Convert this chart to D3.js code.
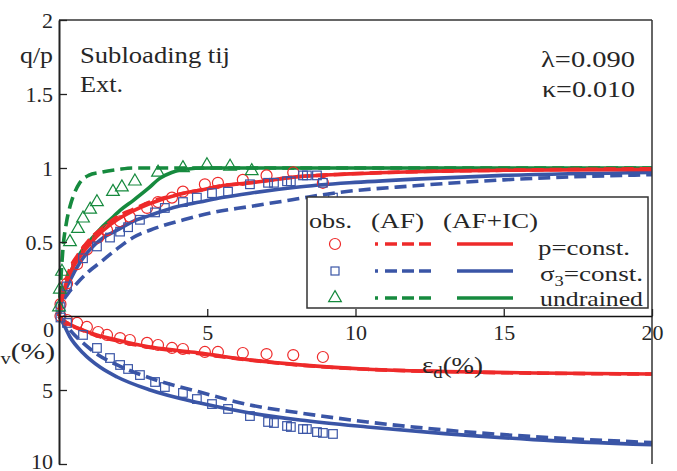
<!DOCTYPE html>
<html>
<head>
<meta charset="utf-8">
<script src="https://cdn.jsdelivr.net/npm/d3@7"></script>
<style>
  html, body { margin: 0; padding: 0; background: #fff; }
  svg { display: block; }
  text { font-family: "Liberation Serif", "Times New Roman", Times, serif; fill: #262626; }
</style>
</head>
<body>
<svg id="chart" width="677" height="471"></svg>
<script>
// ---------------- data ----------------
const xTicks = [5, 10, 15, 20];
const qTicks = [0.5, 1, 1.5, 2];
const vTicks = [0, 5, 10];

// q/p vs eps_d : model curves
const qRedAF = [[0,0],[0.05,0.08],[0.15,0.18],[0.37,0.32],[0.7,0.43],[1.05,0.52],[1.5,0.6],[1.96,0.67],[2.5,0.72],[3.07,0.77],[4,0.82],[4.75,0.85],[5.5,0.88],[6.44,0.9],[8,0.94],[9.8,0.96],[12,0.975],[15,0.985],[20,0.995]];
const qRedIC = [[0,0],[0.05,0.07],[0.15,0.16],[0.37,0.29],[0.7,0.4],[1.05,0.49],[1.5,0.58],[1.96,0.65],[2.5,0.71],[3.07,0.76],[4,0.82],[4.75,0.85],[5.5,0.88],[6.44,0.9],[8,0.94],[9.8,0.96],[12,0.975],[15,0.985],[20,0.99]];
const qBlueAF = [[0,0],[0.1,0.08],[0.3,0.15],[0.6,0.22],[1.0,0.3],[1.38,0.36],[2,0.46],[2.5,0.53],[3.2,0.59],[4.2,0.65],[5.2,0.7],[6.44,0.74],[8,0.79],[9.25,0.83],[12,0.88],[15,0.92],[20,0.955]];
const qBlueIC = [[0,0],[0.05,0.06],[0.15,0.14],[0.37,0.24],[0.7,0.36],[1.05,0.45],[1.5,0.53],[1.96,0.58],[2.5,0.64],[3.07,0.68],[4,0.74],[4.75,0.77],[5.5,0.8],[6.44,0.83],[8,0.87],[9.8,0.9],[12,0.925],[15,0.95],[20,0.97]];
const qGreenAF = [[0,0],[0.05,0.2],[0.14,0.47],[0.25,0.63],[0.37,0.74],[0.5,0.82],[0.7,0.9],[1.0,0.95],[1.38,0.97],[2,0.99],[2.5,1.0],[5,1.0],[10,1.0],[20,1.0]];
const qGreenIC = [[0,0],[0.05,0.06],[0.13,0.13],[0.3,0.25],[0.54,0.36],[0.8,0.45],[1.05,0.51],[1.4,0.59],[1.72,0.65],[2.1,0.72],[2.5,0.78],[3.0,0.86],[3.4,0.93],[3.8,0.97],[4.2,0.99],[5,1.0],[10,1.0],[20,1.0]];

// eps_v vs eps_d : model curves
const vRedAF = [[0,0],[0.05,0.12],[0.13,0.27],[0.4,0.62],[0.81,0.98],[1.3,1.35],[1.96,1.68],[2.5,1.92],[3.07,2.13],[4,2.38],[4.75,2.55],[5.5,2.75],[6.44,2.98],[8.13,3.32],[10.4,3.6],[13,3.76],[16,3.86],[20,3.92]];
const vRedIC = [[0,0],[0.05,0.12],[0.13,0.27],[0.4,0.6],[0.81,0.95],[1.3,1.3],[1.96,1.62],[2.5,1.88],[3.07,2.1],[4,2.33],[4.75,2.5],[5.5,2.72],[6.44,2.97],[8.13,3.3],[10.4,3.6],[13,3.75],[16,3.85],[20,3.92]];
const vBlueAF = [[0,0],[0.05,0.12],[0.13,0.3],[0.37,0.95],[0.81,1.82],[1.3,2.6],[1.96,3.31],[3.07,4.19],[4.75,5.14],[6.44,6.01],[8.13,6.55],[10.4,7.16],[13,7.7],[16,8.15],[20,8.55]];
const vBlueIC = [[0,0],[0.05,0.2],[0.13,0.47],[0.37,1.42],[0.81,2.5],[1.38,3.45],[1.96,4.12],[3.07,5.0],[4.75,5.88],[6.44,6.55],[8.13,7.03],[10.4,7.5],[13,7.95],[16,8.35],[20,8.7]];

// observations
const obsRedEd = [0.05,0.27,0.61,0.94,1.32,1.62,2.06,2.39,2.97,3.34,3.81,4.18,4.92,5.36,6.2,7.0,7.9,8.9];
const obsRedQ  = [0.08,0.22,0.35,0.45,0.53,0.58,0.64,0.67,0.73,0.77,0.8,0.84,0.89,0.9,0.92,0.95,0.97,0.9];
const obsRedV  = [0.0,0.27,0.47,0.74,1.08,1.28,1.49,1.62,1.82,1.96,2.16,2.23,2.43,2.43,2.5,2.57,2.64,2.77];

const obsBlueEd = [0.05,0.27,0.81,1.28,1.72,2.06,2.33,2.73,3.24,3.57,4.18,4.65,5.16,5.7,6.44,7.05,7.25,7.69,7.82,8.23,8.36,8.7,8.9,9.24];
const obsBlueQ  = [0.06,0.2,0.39,0.47,0.53,0.57,0.6,0.65,0.7,0.73,0.77,0.8,0.83,0.84,0.89,0.9,0.9,0.91,0.91,0.95,0.95,0.95,0.9,0.8];
const obsBlueV  = [0.1,0.47,1.28,2.16,2.84,3.31,3.58,3.99,4.46,4.8,5.2,5.61,5.95,6.28,6.76,7.16,7.23,7.43,7.5,7.64,7.64,7.84,7.9,7.97];

const obsGreenEd = [0.0,0.03,0.1,0.37,0.64,0.81,1.05,1.28,1.82,2.12,2.56,3.34,4.18,4.99,5.77,6.5];
const obsGreenQ  = [0.06,0.18,0.3,0.5,0.59,0.66,0.72,0.77,0.84,0.87,0.91,0.97,1.0,1.02,1.01,0.98];

// ---------------- drawing ----------------
const RED = "#ee2a2a", BLUE = "#3a55a6", GREEN = "#168a3e";
const svg = d3.select("#chart");
const x = d3.scaleLinear([0, 20], [59, 652]);
const yq = d3.scaleLinear([0, 2], [316, 20]);
const yv = d3.scaleLinear([0, 10], [316, 464]);

const lineQ = d3.line().x(d => x(d[0])).y(d => yq(d[1])).curve(d3.curveMonotoneX);
const lineV = d3.line().x(d => x(d[0])).y(d => yv(d[1])).curve(d3.curveMonotoneX);

const DASH = "12,6";
const curves = [
  [qGreenAF, lineQ, GREEN, DASH], [qGreenIC, lineQ, GREEN, null],
  [qBlueAF, lineQ, BLUE, DASH], [qBlueIC, lineQ, BLUE, null],
  [qRedAF, lineQ, RED, DASH], [qRedIC, lineQ, RED, null],
  [vBlueAF, lineV, BLUE, DASH], [vBlueIC, lineV, BLUE, null],
  [vRedAF, lineV, RED, DASH], [vRedIC, lineV, RED, null]
];
const gC = svg.append("g");
curves.forEach(([data, gen, col, dash]) => {
  gC.append("path").attr("d", gen(data)).attr("fill", "none")
    .attr("stroke", col).attr("stroke-width", 3.6)
    .attr("stroke-dasharray", dash);
});

// markers
const gM = svg.append("g").attr("fill", "none").attr("stroke-width", 1.2);
function circles(ed, vals, sc) {
  ed.forEach((e, i) => gM.append("circle").attr("cx", x(e)).attr("cy", sc(vals[i])).attr("r", 5.5).attr("stroke", RED));
}
function squares(ed, vals, sc) {
  ed.forEach((e, i) => gM.append("rect").attr("x", x(e) - 4.3).attr("y", sc(vals[i]) - 4.3).attr("width", 8.6).attr("height", 8.6).attr("stroke", BLUE));
}
function triangles(ed, vals, sc) {
  const tri = d3.symbol(d3.symbolTriangle, 70);
  ed.forEach((e, i) => gM.append("path").attr("d", tri()).attr("transform", `translate(${x(e)},${sc(vals[i])})`).attr("stroke", GREEN));
}
circles(obsRedEd, obsRedQ, yq);
circles(obsRedEd, obsRedV, yv);
squares(obsBlueEd, obsBlueQ, yq);
squares(obsBlueEd, obsBlueV, yv);
triangles(obsGreenEd, obsGreenQ, yq);

// legend
const lg = svg.append("g");
lg.append("rect").attr("x", 307).attr("y", 197).attr("width", 341).attr("height", 111)
  .attr("fill", "#fff").attr("stroke", "#333").attr("stroke-width", 1.5);
const fs = "22px";
lg.append("text").attr("x", 309).attr("y", 228).attr("font-size", fs).attr("textLength", 43).attr("lengthAdjust", "spacingAndGlyphs").text("obs.");
lg.append("text").attr("x", 371).attr("y", 228).attr("font-size", fs).attr("textLength", 53).attr("lengthAdjust", "spacingAndGlyphs").text("(AF)");
lg.append("text").attr("x", 443).attr("y", 228).attr("font-size", fs).attr("textLength", 95).attr("lengthAdjust", "spacingAndGlyphs").text("(AF+IC)");
const rows = [
  {y: 244, col: RED, mk: "c"},
  {y: 271, col: BLUE, mk: "s"},
  {y: 298, col: GREEN, mk: "t"}
];
rows.forEach(r => {
  if (r.mk === "c") lg.append("circle").attr("cx", 335).attr("cy", r.y).attr("r", 5.5).attr("fill", "none").attr("stroke", r.col).attr("stroke-width", 1.2);
  if (r.mk === "s") lg.append("rect").attr("x", 331).attr("y", r.y - 4).attr("width", 8).attr("height", 8).attr("fill", "none").attr("stroke", r.col).attr("stroke-width", 1.2);
  if (r.mk === "t") lg.append("path").attr("d", d3.symbol(d3.symbolTriangle, 70)()).attr("transform", `translate(335,${r.y})`).attr("fill", "none").attr("stroke", r.col).attr("stroke-width", 1.2);
  lg.append("line").attr("x1", 375).attr("x2", 432).attr("y1", r.y).attr("y2", r.y)
    .attr("stroke", r.col).attr("stroke-width", 3.3).attr("stroke-dasharray", "3,7,12,5,12,5,12");
  lg.append("line").attr("x1", 457).attr("x2", 513).attr("y1", r.y).attr("y2", r.y)
    .attr("stroke", r.col).attr("stroke-width", 3.3);
});
lg.append("text").attr("x", 538).attr("y", 255).attr("font-size", fs).attr("textLength", 92).attr("lengthAdjust", "spacingAndGlyphs").text("p=const.");
const sg = lg.append("text").attr("x", 540).attr("y", 281).attr("font-size", fs).attr("textLength", 103).attr("lengthAdjust", "spacingAndGlyphs");
sg.append("tspan").text("σ");
sg.append("tspan").attr("font-size", "15px").attr("dy", 5).text("3");
sg.append("tspan").attr("dy", -5).text("=const.");
lg.append("text").attr("x", 540).attr("y", 306).attr("font-size", fs).attr("textLength", 103).attr("lengthAdjust", "spacingAndGlyphs").text("undrained");

// frame & axes
svg.append("line").attr("x1", 59).attr("x2", 652).attr("y1", 20).attr("y2", 20).attr("stroke", "#666").attr("stroke-width", 2);
svg.append("line").attr("x1", 652).attr("x2", 652).attr("y1", 20).attr("y2", 464).attr("stroke", "#333").attr("stroke-width", 1.5);

const axQ = svg.append("g").attr("transform", "translate(59,0)")
  .call(d3.axisLeft(yq).tickValues(qTicks).tickFormat(d3.format("")).tickSizeInner(-8).tickSizeOuter(0).tickPadding(6));
const axV = svg.append("g").attr("transform", "translate(59,0)")
  .call(d3.axisLeft(yv).tickValues(vTicks).tickFormat(d3.format("")).tickSizeInner(-8).tickSizeOuter(0).tickPadding(6));
axV.selectAll(".tick").filter(d => d === 0).select("text").attr("dy", "0.95em").attr("x", -5);
axV.selectAll(".tick").filter(d => d === 0).select("line").remove();
axV.selectAll(".tick").filter(d => d === 10).select("text").attr("dy", "0.22em");
const axX = svg.append("g").attr("transform", "translate(0,316)")
  .call(d3.axisBottom(x).tickValues(xTicks).tickFormat(d3.format("")).tickSizeInner(-7).tickSizeOuter(0).tickPadding(8));
axX.select(".domain").attr("stroke", "#111").attr("stroke-width", 1.5);
[axQ, axV].forEach(a => a.select(".domain").attr("stroke", "#222").attr("stroke-width", 2));
[axQ, axV, axX].forEach(a => {
  a.selectAll(".tick line").attr("stroke", "#222").attr("stroke-width", 1.3);
  a.selectAll(".tick text").attr("font-family", "Liberation Serif, serif").attr("font-size", "22px").attr("fill", "#262626");
});

// annotation texts
const big = "23px";
svg.append("text").attr("x", 20).attr("y", 63).attr("font-size", big).attr("textLength", 33).attr("lengthAdjust", "spacingAndGlyphs").text("q/p");
svg.append("text").attr("x", 80).attr("y", 63).attr("font-size", big).attr("textLength", 150).attr("lengthAdjust", "spacingAndGlyphs").text("Subloading tij");
svg.append("text").attr("x", 80).attr("y", 92).attr("font-size", big).attr("textLength", 43).attr("lengthAdjust", "spacingAndGlyphs").text("Ext.");
svg.append("text").attr("x", 541).attr("y", 67).attr("font-size", big).attr("textLength", 94).attr("lengthAdjust", "spacingAndGlyphs").text("λ=0.090");
svg.append("text").attr("x", 542).attr("y", 97).attr("font-size", big).attr("textLength", 93).attr("lengthAdjust", "spacingAndGlyphs").text("κ=0.010");

const ed = svg.append("text").attr("x", 422).attr("y", 373).attr("font-size", big)
  .attr("textLength", 61).attr("lengthAdjust", "spacingAndGlyphs");
ed.append("tspan").text("ε");
ed.append("tspan").attr("font-size", "16px").attr("dy", 5).text("d");
ed.append("tspan").attr("dy", -5).text("(%)");

// y label for the lower panel: its epsilon runs off the left edge, as in the reference
const ev = svg.append("text").attr("x", -12).attr("y", 359).attr("font-size", big)
  .attr("textLength", 67).attr("lengthAdjust", "spacingAndGlyphs");
ev.append("tspan").text("ε");
ev.append("tspan").attr("font-size", "16px").attr("dy", 5).text("v");
ev.append("tspan").attr("dy", -5).text("(%)");
</script>
</body>
</html>
